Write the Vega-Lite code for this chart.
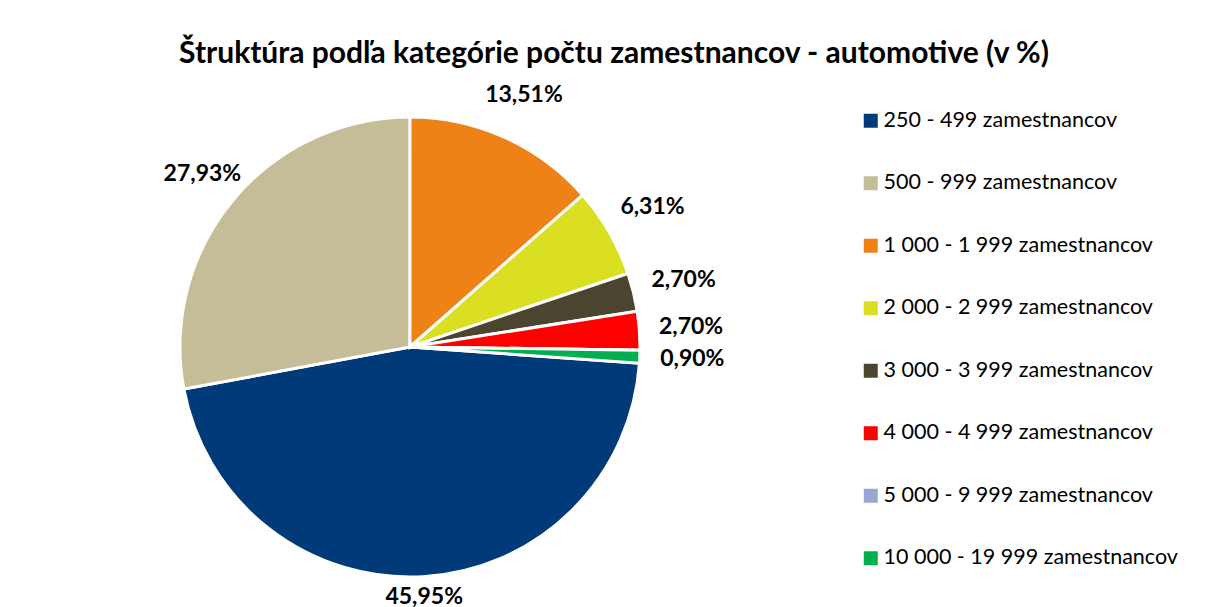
{
  "$schema": "https://vega.github.io/schema/vega-lite/v6.json",
  "autosize": "none",
  "padding": {"left": 10, "top": 9, "right": 396, "bottom": 0},
  "background": "white",
  "width": 800,
  "height": 676,
  "config": {
    "view": {"stroke": null},
    "locale": {"number": {"decimal": ",", "thousands": " ", "grouping": [3], "currency": ["", " €"]}}
  },
  "title": {
    "text": "Štruktúra podľa kategórie počtu zamestnancov - automotive (v %)",
    "anchor": "middle", "frame": "group", "offset": -60, "dx": 204,
    "font": "Lato", "fontSize": 30, "fontWeight": "bold", "color": "black"
  },
  "data": {
    "values": [
      {"kategoria": "250 - 499 zamestnancov", "poradie": 1, "podiel": 0.4595},
      {"kategoria": "500 - 999 zamestnancov", "poradie": 2, "podiel": 0.2793},
      {"kategoria": "1 000 - 1 999 zamestnancov", "poradie": 3, "podiel": 0.1351},
      {"kategoria": "2 000 - 2 999 zamestnancov", "poradie": 4, "podiel": 0.0631},
      {"kategoria": "3 000 - 3 999 zamestnancov", "poradie": 5, "podiel": 0.0270},
      {"kategoria": "4 000 - 4 999 zamestnancov", "poradie": 6, "podiel": 0.0270},
      {"kategoria": "5 000 - 9 999 zamestnancov", "poradie": 7, "podiel": 0},
      {"kategoria": "10 000 - 19 999 zamestnancov", "poradie": 8, "podiel": 0.0090}
    ]
  },
  "layer": [
    {
      "mark": {"type": "arc", "outerRadius": 230, "stroke": "white", "strokeWidth": 3},
      "encoding": {
        "theta": {"field": "podiel", "type": "quantitative", "stack": true, "scale": {"range": [1.6412, 7.9244]}},
        "order": {"field": "poradie", "type": "quantitative"},
        "color": {
          "field": "kategoria", "type": "nominal",
          "scale": {
            "domain": ["250 - 499 zamestnancov", "500 - 999 zamestnancov", "1 000 - 1 999 zamestnancov", "2 000 - 2 999 zamestnancov", "3 000 - 3 999 zamestnancov", "4 000 - 4 999 zamestnancov", "5 000 - 9 999 zamestnancov", "10 000 - 19 999 zamestnancov"],
            "range": ["#003A78", "#C4BD97", "#EE8216", "#DAE021", "#4B452F", "#FF0000", "#95A8D0", "#00B050"]
          },
          "legend": {
            "title": null, "orient": "none", "legendX": 850, "legendY": 101,
            "symbolType": "square", "symbolSize": 196, "symbolStrokeWidth": 0, "symbolOpacity": 1,
            "labelFont": "Lato", "labelFontSize": 21.5, "labelColor": "black",
            "rowPadding": 39.5, "labelOffset": 2, "padding": 0, "labelLimit": 400
          }
        }
      }
    },
    {
      "transform": [{"filter": "datum.podiel > 0"}],
      "mark": {"type": "text", "font": "Lato", "fontSize": 23, "fontWeight": "bold", "color": "black", "align": "center", "baseline": "middle"},
      "encoding": {
        "theta": {"field": "podiel", "type": "quantitative", "stack": true},
        "order": {"field": "poradie", "type": "quantitative"},
        "radius": {"field": "podiel", "type": "quantitative", "scale": {"type": "linear", "domain": [0, 0.3, 0.5], "range": [283, 269, 246], "zero": false}},
        "text": {"field": "podiel", "type": "quantitative", "format": ".2%"}
      }
    }
  ]
}
